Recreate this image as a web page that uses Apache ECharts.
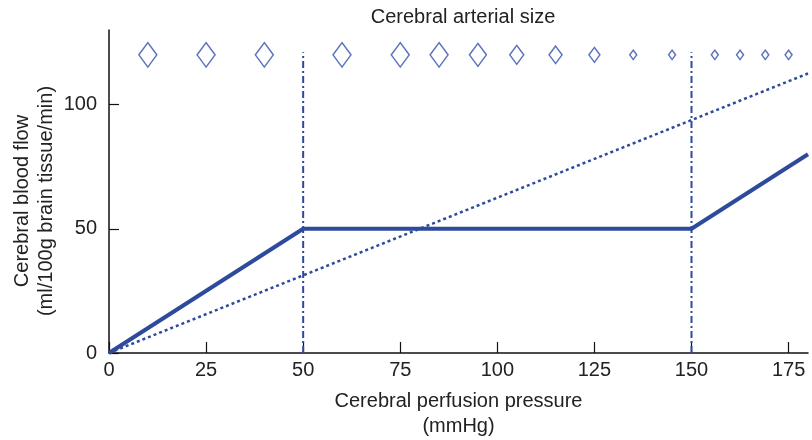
<!DOCTYPE html>
<html><head><meta charset="utf-8">
<script src="https://cdn.jsdelivr.net/npm/echarts@6/dist/echarts.min.js"></script>
<style>html,body{margin:0;padding:0;background:#fff}#c{width:812px;height:440px}</style>
</head><body><div id="c"></div>
<script>
// Autoregulation curve (solid)
const flowX = [0, 50, 150, 180];
const flowY = [0, 50, 50, 80];
// Passive pressure-flow line (dotted)
const passiveX = [0, 180];
const passiveY = [0, 112.5];
// Limits of autoregulation (dash-dot verticals)
const limitX = [50, 150];
const limitY = [0, 121];
// Cerebral arterial size markers
const arteryX = [10, 25, 40, 60, 75, 85, 95, 105, 115, 125, 135, 145, 156, 162.5, 169, 175];
const arteryLevel = 120;
const arterySize = [18, 18, 18, 18, 18, 18, 17, 14, 13, 11, 7, 7, 7, 7, 7, 7];
const xTicks = [0, 25, 50, 75, 100, 125, 150, 175];
const yTicks = [0, 50, 100];

const blue = '#2d4a9c';
const font = '"Liberation Sans", Arial, sans-serif';

const series = [
  {
    type: 'line', data: flowX.map((x, i) => [x, flowY[i]]), symbol: 'none',
    lineStyle: { color: blue, width: 4 }, z: 5
  },
  {
    type: 'line', data: passiveX.map((x, i) => [x, passiveY[i]]), symbol: 'none',
    lineStyle: { color: blue, width: 2.5, type: [3, 3] }, z: 4
  }
];
limitX.forEach(x => series.push({
  type: 'line', data: limitY.map(y => [x, y]), symbol: 'none',
  lineStyle: { color: blue, width: 2, type: [7, 3, 2, 3] }, z: 3
}));
series.push({
  type: 'scatter',
  data: arteryX.map((x, i) => ({ value: [x, arteryLevel], symbolSize: [arterySize[i], arterySize[i] * 1.35] })),
  symbol: 'diamond',
  itemStyle: { color: '#fff', borderColor: '#3650ab', borderWidth: 1.5 },
  z: 6
});

const chart = echarts.init(document.getElementById('c'), null, { renderer: 'canvas' });
chart.setOption({
  animation: false,
  backgroundColor: '#fff',
  title: {
    text: 'Cerebral arterial size', left: 458, top: 2, textAlign: 'center',
    textStyle: { fontFamily: font, fontSize: 20, fontWeight: 'normal', color: '#222' }
  },
  grid: { left: 109, right: 4, top: 30, bottom: 87, containLabel: false, outerBoundsMode: 'none' },
  xAxis: {
    type: 'value', min: 0, max: 180, interval: 25,
    name: 'Cerebral perfusion pressure\n(mmHg)', nameLocation: 'middle', nameGap: 36,
    nameMoveOverlap: false,
    nameTextStyle: { fontFamily: font, fontSize: 20, color: '#222', lineHeight: 25 },
    axisLine: { show: true, lineStyle: { color: '#111', width: 1.5 } },
    axisTick: { show: true, inside: true, length: 11, lineStyle: { color: '#111', width: 1.2 },
      customValues: xTicks },
    axisLabel: { fontFamily: font, fontSize: 20, color: '#222', margin: 7, customValues: xTicks },
    splitLine: { show: false }
  },
  yAxis: {
    type: 'value', min: 0, max: 130, interval: 50,
    name: 'Cerebral blood flow\n(ml/100g brain tissue/min)', nameLocation: 'middle', nameGap: 51,
    nameMoveOverlap: false,
    nameRotate: 90,
    nameTextStyle: { fontFamily: font, fontSize: 20, color: '#222', lineHeight: 24, padding: [0, 19, 0, 0] },
    axisLine: { show: true, lineStyle: { color: '#111', width: 1.5 } },
    axisTick: { show: true, inside: true, length: 10, lineStyle: { color: '#111', width: 1.2 },
      customValues: yTicks },
    axisLabel: { fontFamily: font, fontSize: 20, color: '#222', margin: 12, customValues: yTicks },
    splitLine: { show: false }
  },
  series
});
</script></body></html>
